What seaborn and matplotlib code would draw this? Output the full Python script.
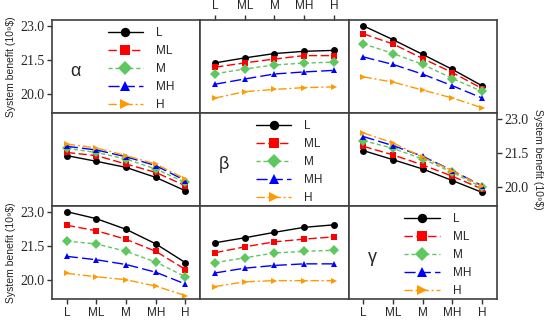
import numpy as np
import pandas as pd
import matplotlib
matplotlib.use("Agg")
import matplotlib.pyplot as plt
from matplotlib.ticker import FormatStrFormatter
import seaborn as sns

levels = ["L", "ML", "M", "MH", "H"]
greek = ["α", "β", "γ"]

# system benefit (10^9 $), one list per series L, ML, M, MH, H along the x levels
top_mid = [
    [21.36, 21.58, 21.77, 21.87, 21.91],
    [21.17, 21.36, 21.53, 21.68, 21.68],
    [20.88, 21.09, 21.27, 21.35, 21.39],
    [20.42, 20.65, 20.87, 20.96, 21.03],
    [19.81, 20.09, 20.19, 20.27, 20.30],
]
top_right = [
    [22.99, 22.38, 21.73, 21.07, 20.35],
    [22.64, 22.19, 21.55, 20.93, 20.23],
    [22.20, 21.77, 21.29, 20.67, 20.10],
    [21.62, 21.29, 20.86, 20.35, 19.81],
    [20.74, 20.51, 20.16, 19.81, 19.38],
]
mid_left = [
    [21.37, 21.12, 20.85, 20.41, 19.82],
    [21.51, 21.37, 21.00, 20.63, 20.04],
    [21.69, 21.51, 21.22, 20.78, 20.19],
    [21.78, 21.62, 21.32, 20.93, 20.27],
    [21.88, 21.71, 21.37, 21.00, 20.34],
]
mid_right = [
    [21.59, 21.19, 20.78, 20.27, 19.75],
    [21.78, 21.40, 20.96, 20.46, 19.90],
    [22.03, 21.69, 21.22, 20.63, 19.97],
    [22.21, 21.81, 21.34, 20.71, 20.04],
    [22.37, 21.93, 21.29, 20.71, 20.01],
]
bot_left = [
    [23.00, 22.69, 22.22, 21.58, 20.75],
    [22.40, 22.16, 21.78, 21.25, 20.45],
    [21.70, 21.58, 21.25, 20.78, 20.13],
    [21.03, 20.88, 20.67, 20.33, 19.81],
    [20.28, 20.13, 20.00, 19.72, 19.30],
]
bot_mid = [
    [21.63, 21.85, 22.09, 22.31, 22.42],
    [21.19, 21.45, 21.67, 21.79, 21.89],
    [20.75, 20.97, 21.18, 21.25, 21.30],
    [20.30, 20.51, 20.63, 20.70, 20.70],
    [19.70, 19.91, 19.96, 19.96, 19.96],
]
panels = {(0, 1): top_mid, (0, 2): top_right, (1, 0): mid_left,
          (1, 2): mid_right, (2, 0): bot_left, (2, 1): bot_mid}

colors = {"L": "black", "ML": "#ff0000", "M": "#5ec85e", "MH": "#0000ff", "H": "#ff9a00"}
markers = {"L": "o", "ML": "s", "M": "D", "MH": "^", "H": ">"}
dashes = {"L": "", "ML": (6, 2.5), "M": (3, 2), "MH": (8, 3), "H": (6, 2, 1.5, 2)}

sns.set_style("ticks")
plt.rcParams["font.family"] = ["Liberation Sans", "DejaVu Sans"]

fig, axes = plt.subplots(3, 3, figsize=(5.5, 3.21), dpi=100)
fig.subplots_adjust(left=0.0945, right=0.9036, top=0.9377, bottom=0.0685,
                    wspace=0, hspace=0)

for (r, c), vals in panels.items():
    rows = []
    for s, series in zip(levels, vals):
        for i, v in enumerate(series):
            rows.append({"x": i, "val": v, "series": s})
    d = pd.DataFrame(rows)
    sns.lineplot(data=d, x="x", y="val", hue="series", style="series",
                 hue_order=levels, style_order=levels, palette=colors,
                 markers=markers, dashes=dashes, markersize=5,
                 markeredgewidth=0, linewidth=1, legend=False, ax=axes[r, c])

handles = axes[0, 1].get_lines()[:5]

for r in range(3):
    for c in range(3):
        ax = axes[r, c]
        ax.set_xlim(-0.5, 4.5)
        ax.set_ylim(19.15, 23.25)
        ax.set_xlabel("")
        ax.set_ylabel("")
        ax.set_xticks(range(5))
        ax.set_xticklabels(levels)
        ax.set_yticks([20.0, 21.5, 23.0])
        ax.yaxis.set_major_formatter(FormatStrFormatter("%.1f"))
        ax.tick_params(bottom=False, labelbottom=False, top=False, labeltop=False,
                       left=False, labelleft=False, right=False, labelright=False,
                       direction="out", length=3.5, width=1, color="#333333",
                       labelsize=8.5, pad=2)
        for sp in ax.spines.values():
            sp.set_visible(True)
            sp.set_color("#404040")
            sp.set_linewidth(1.2)
        if r == c:
            ax.text(0.16, 0.45, greek[r], transform=ax.transAxes, fontsize=13,
                    ha="center", va="center")
            ax.legend(handles, levels, loc="center", bbox_to_anchor=(0.6, 0.47),
                      frameon=False, fontsize=8.5, handlelength=3.0,
                      labelspacing=0.5, handletextpad=1.1, markerscale=1.35)

ylabel = "System benefit (10⁹$)"
for ax in (axes[0, 0], axes[2, 0]):
    ax.tick_params(left=True, labelleft=True)
    ax.set_ylabel(ylabel, fontsize=7.5, labelpad=3)
    for t in ax.get_yticklabels():
        t.set_fontfamily("Liberation Serif")
        t.set_fontsize(10)
ax = axes[1, 2]
ax.tick_params(right=True, labelright=True)
ax.yaxis.set_label_position("right")
ax.set_ylabel(ylabel, fontsize=7.5, rotation=270, labelpad=10)
for t in ax.get_yticklabels():
    t.set_fontfamily("Liberation Serif")
    t.set_fontsize(10)

axes[0, 1].tick_params(top=True, labeltop=True)
axes[2, 0].tick_params(bottom=True, labelbottom=True)
axes[2, 2].tick_params(bottom=True, labelbottom=True)

fig.savefig("out.png", dpi=100)
